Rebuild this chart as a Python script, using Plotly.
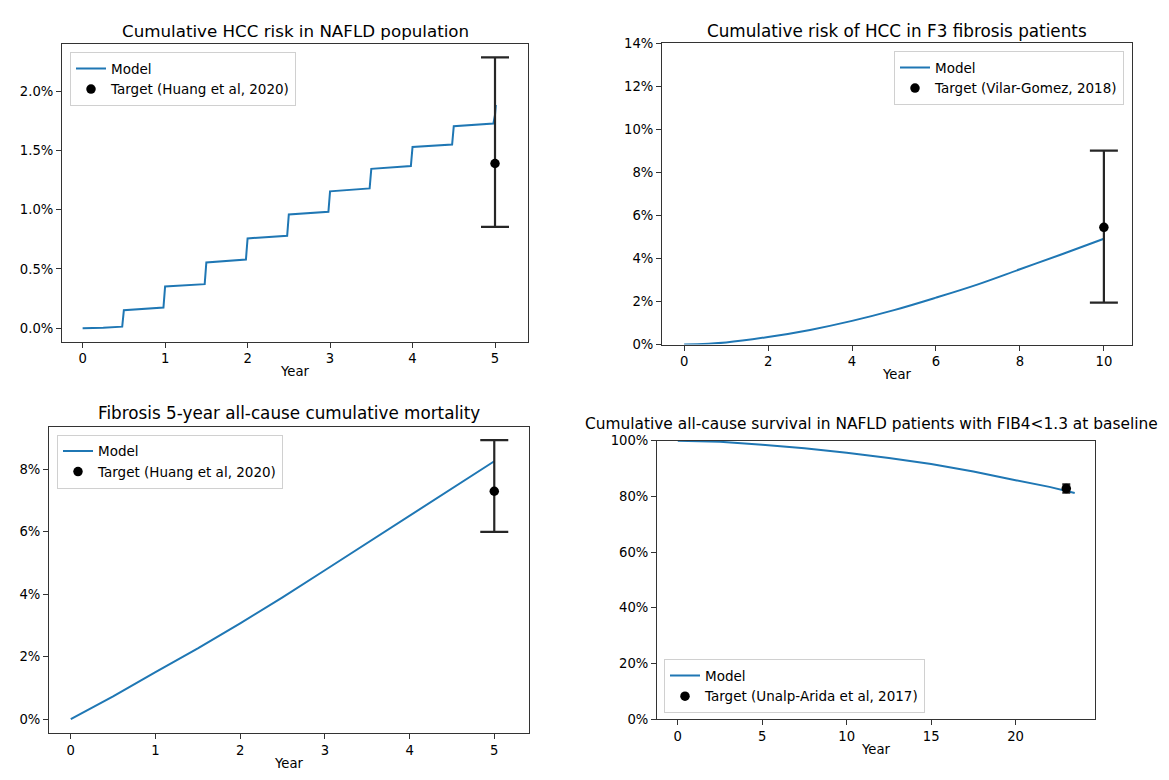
import plotly.graph_objects as go

# ---------------- data ----------------
# Panel 1: cumulative HCC risk in NAFLD population (%)
hcc_years = [0, 0.25, 0.48, 0.50, 0.98, 1.00, 1.48, 1.50, 1.98, 2.00, 2.48, 2.50,
             2.98, 3.00, 3.48, 3.50, 3.98, 4.00, 4.48, 4.50, 4.98, 5.00, 5.01]
hcc_risk = [0.0, 0.003, 0.013, 0.151, 0.174, 0.353, 0.372, 0.555, 0.579, 0.758, 0.780, 0.960,
            0.982, 1.155, 1.180, 1.345, 1.368, 1.530, 1.550, 1.705, 1.727, 1.80, 1.884]
hcc_target_year = [5]
hcc_target = [1.39]
hcc_target_low = [0.855]
hcc_target_high = [2.285]

# Panel 2: cumulative risk of HCC in F3 fibrosis patients (%)
f3_years = [0, 1, 2, 3, 4, 5, 6, 7, 8, 9, 10]
f3_risk = [0.0, 0.10, 0.35, 0.68, 1.10, 1.60, 2.18, 2.80, 3.50, 4.20, 4.92]
f3_target_year = [10]
f3_target = [5.45]
f3_target_low = [1.95]
f3_target_high = [9.02]

# Panel 3: fibrosis 5-year all-cause cumulative mortality (%)
mort_years = [0, 0.5, 1, 1.5, 2, 2.5, 3, 3.5, 4, 4.5, 5]
mort_risk = [0.0, 0.73, 1.51, 2.27, 3.07, 3.90, 4.77, 5.64, 6.53, 7.39, 8.26]
mort_target_year = [5]
mort_target = [7.30]
mort_target_low = [6.00]
mort_target_high = [8.94]

# Panel 4: cumulative all-cause survival, FIB4<1.3 (%)
surv_years = [0, 2.5, 5, 7.5, 10, 12.5, 15, 17.5, 20, 22, 23.5]
surv = [100.0, 99.6, 98.5, 97.3, 95.7, 93.8, 91.6, 88.9, 85.8, 83.4, 81.2]
surv_target_year = [23]
surv_target = [82.8]
surv_target_low = [81.3]
surv_target_high = [84.3]

titles = ["Cumulative HCC risk in NAFLD population",
          "Cumulative risk of HCC in F3 fibrosis patients",
          "Fibrosis 5-year all-cause cumulative mortality",
          "Cumulative all-cause survival in NAFLD patients with FIB4<1.3 at baseline"]
target_names = ["Target (Huang et al, 2020)", "Target (Vilar-Gomez, 2018)",
                "Target (Huang et al, 2020)", "Target (Unalp-Arida et al, 2017)"]

# ---------------- layout geometry ----------------
W, H = 1169, 780
FONT = "DejaVu Sans"
BLUE = "#1f77b4"
AXC = "#333333"

# axes boxes in pixels: (left, right, top, bottom)
boxes = [(54, 520, 30, 333), (654, 1124, 29, 336), (41, 521, 420, 732), (649, 1087, 434, 718)]
xranges = [[-0.25, 5.40], [-0.527, 10.67], [-0.257, 5.41], [-1.23, 24.7]]
yranges = [[-0.113, 2.395], [0, 14], [-0.44, 9.36], [0, 100]]
ytickvals = [[0, 0.5, 1.0, 1.5, 2.0], [0, 2, 4, 6, 8, 10, 12, 14], [0, 2, 4, 6, 8],
             [0, 20, 40, 60, 80, 100]]
ydecimals = [1, 0, 0, 0]
xtickvals = [[0, 1, 2, 3, 4, 5], [0, 2, 4, 6, 8, 10], [0, 1, 2, 3, 4, 5], [0, 5, 10, 15, 20]]
title_y = [16, 16, 406, 417]
title_x = [287, 889, 281, 863]
title_size = [16.7, 16.8, 16.8, 15.4]
caps = [14, 14, 14, 4]

series = [
    (hcc_years, hcc_risk, hcc_target_year, hcc_target, hcc_target_low, hcc_target_high),
    (f3_years, f3_risk, f3_target_year, f3_target, f3_target_low, f3_target_high),
    (mort_years, mort_risk, mort_target_year, mort_target, mort_target_low, mort_target_high),
    (surv_years, surv, surv_target_year, surv_target, surv_target_low, surv_target_high),
]

# legend placement (paper coords)
legend_pos = [
    dict(x=62 / W, y=1 - 38 / H, xanchor="left", yanchor="top"),
    dict(x=1116 / W, y=1 - 37 / H, xanchor="right", yanchor="top"),
    dict(x=49 / W, y=1 - 428 / H, xanchor="left", yanchor="top"),
    dict(x=656 / W, y=1 - 712 / H, xanchor="left", yanchor="bottom"),
]

TICK = 13.2
LEG = 13.5
fig = go.Figure()
layout = dict(width=W, height=H, margin=dict(l=0, r=0, t=0, b=0),
              paper_bgcolor="white", plot_bgcolor="white",
              font=dict(family=FONT, size=TICK, color="black"), annotations=[])

for i, (xs, ys, tx, ty, tlo, thi) in enumerate(series):
    n = "" if i == 0 else str(i + 1)
    leg = "legend" if i == 0 else f"legend{i + 1}"
    fig.add_trace(go.Scatter(x=xs, y=ys, mode="lines", name="Model",
                             line=dict(color=BLUE, width=2, shape="spline" if i == 1 else "linear"),
                             xaxis="x" + n, yaxis="y" + n, legend=leg))
    fig.add_trace(go.Scatter(
        x=tx, y=ty, mode="markers", name=target_names[i],
        marker=dict(color="black", size=9.5),
        error_y=dict(type="data", symmetric=False,
                     array=[h - v for h, v in zip(thi, ty)],
                     arrayminus=[v - l for v, l in zip(ty, tlo)],
                     color="#262626", thickness=2.2, width=caps[i]),
        xaxis="x" + n, yaxis="y" + n, legend=leg))

    l, r, t, b = boxes[i]
    axstyle = dict(showline=True, linecolor=AXC, linewidth=1, mirror=True,
                   showgrid=False, zeroline=False, ticks="outside", ticklen=5,
                   tickcolor=AXC, tickfont=dict(family=FONT, size=TICK, color="black"))
    layout["xaxis" + n] = dict(domain=[l / W, r / W], range=xranges[i],
                               anchor="y" + n, tickmode="array", tickvals=xtickvals[i],
                               ticktext=[str(v) for v in xtickvals[i]],
                               title=dict(text="Year", font=dict(family=FONT, size=TICK), standoff=1),
                               **axstyle)
    d = ydecimals[i]
    layout["yaxis" + n] = dict(domain=[1 - b / H, 1 - t / H], range=yranges[i],
                               anchor="x" + n, tickmode="array", tickvals=ytickvals[i],
                               ticktext=[f"{v:.{d}f}%" for v in ytickvals[i]], **axstyle)
    layout[leg] = dict(**legend_pos[i], bgcolor="white", bordercolor="#d0d0d0", borderwidth=1,
                       font=dict(family=FONT, size=LEG, color="black"), itemwidth=30,
                       tracegroupgap=2)
    layout["annotations"].append(dict(text=titles[i], x=title_x[i] / W, y=1 - title_y[i] / H,
                                      xref="paper", yref="paper", showarrow=False,
                                      xanchor="center", yanchor="middle",
                                      font=dict(family=FONT, size=title_size[i], color="black")))

fig.update_layout(**layout)
fig.write_html("out.html")
